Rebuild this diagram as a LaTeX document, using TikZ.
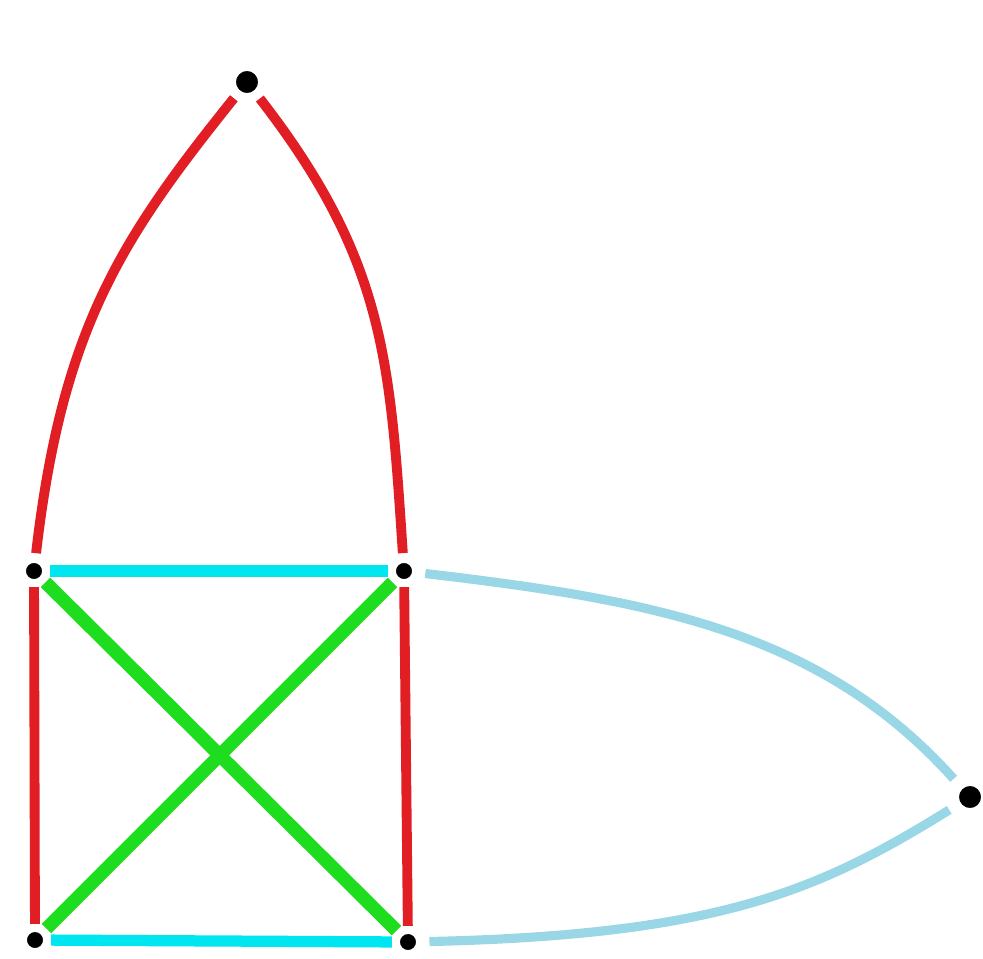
\documentclass[tikz,border=0pt]{standalone}
\begin{document}
\begin{tikzpicture}[x=0.01cm,y=-0.01cm,
  vtx/.style={circle,fill=black,draw=white,line width=0.8pt,inner sep=0pt,minimum size=#1},
  redE/.style={draw={rgb,255:red,225;green,30;blue,35},line width=2.8pt},
  cyanE/.style={draw={rgb,255:red,0;green,230;blue,240},line width=3.2pt},
  greenE/.style={draw={rgb,255:red,30;green,220;blue,30},line width=3.8pt},
  lblueE/.style={draw={rgb,255:red,153;green,214;blue,230},line width=2.6pt},
  gap/.style={shorten >=#1,shorten <=#1}]
\useasboundingbox (0,0) rectangle (983,958);
\node[vtx=0.25cm] (top) at (247,82) {};
\node[vtx=0.19cm] (tl) at (34,571) {};
\node[vtx=0.19cm] (tr) at (404,571) {};
\node[vtx=0.19cm] (bl) at (35,940) {};
\node[vtx=0.19cm] (br) at (408,942) {};
\node[vtx=0.25cm] (rt) at (970,797) {};
% red verticals
\draw[redE,gap=1.5pt] (tl) -- (bl);
\draw[redE,gap=1.5pt] (tr) -- (br);
% cyan horizontals
\draw[cyanE,gap=1.5pt] (tl) -- (tr);
\draw[cyanE,gap=1.5pt] (bl) -- (br);
% green diagonals
\draw[greenE,gap=1.5pt] (tl) -- (br);
\draw[greenE,gap=1.5pt] (bl) -- (tr);
% red curves to top
\draw[redE,gap=2pt] (tl) .. controls (62,330) and (120,240) .. (top);
\draw[redE,gap=2pt] (tr) .. controls (390,360) and (385,260) .. (top);
% light blue curves to right
\draw[lblueE,gap=3pt] (tr) .. controls (650,600) and (820,630) .. (rt);
\draw[lblueE,gap=3pt] (br) .. controls (720,935) and (820,890) .. (rt);
\end{tikzpicture}
\end{document}
